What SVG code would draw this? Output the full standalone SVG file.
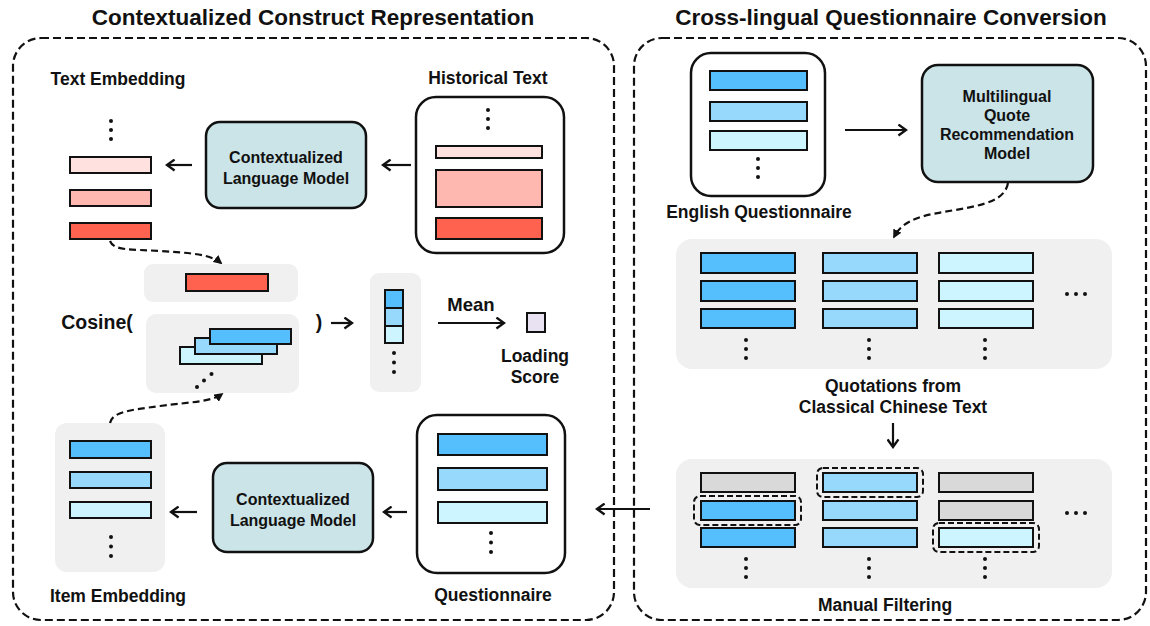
<svg xmlns="http://www.w3.org/2000/svg" width="1150" height="626" viewBox="0 0 1150 626">
<defs>
<style>
text{font-family:"Liberation Sans",Arial,sans-serif;font-weight:bold;fill:#111;text-anchor:middle}
.title{font-size:22.5px}
.lbl{font-size:17.5px}
.box{font-size:16px}
.panel{fill:none;stroke:#111;stroke-width:2.2;stroke-dasharray:8 4}
.card{fill:#fff;stroke:#111;stroke-width:2.5}
.model{fill:#CBE4E8;stroke:#111;stroke-width:2.5}
.gray{fill:#F0F0F0;stroke:none}
.bar{stroke:#111;stroke-width:2}
.b1{fill:#55BEFD}
.b2{fill:#97D9FD}
.b3{fill:#CDF5FF}
.r1{fill:#FFE2DF}
.r2{fill:#FFB8AF}
.r3{fill:#FF6350}
.g{fill:#D9D9D9}
.arr{fill:none;stroke:#111;stroke-width:2.2;marker-end:url(#chev)}
.darr{fill:none;stroke:#111;stroke-width:2.2;stroke-dasharray:7 4;marker-end:url(#tri)}
.hl{fill:none;stroke:#111;stroke-width:2;stroke-dasharray:6 3}
.dot{fill:#111}
</style>
<marker id="chev" viewBox="0 0 12 12" refX="10" refY="6" markerWidth="13" markerHeight="13" markerUnits="userSpaceOnUse" orient="auto">
<path d="M3,1 L10,6 L3,11" fill="none" stroke="#111" stroke-width="2.2"/>
</marker>
<marker id="tri" viewBox="0 0 10 10" refX="8" refY="5" markerWidth="9" markerHeight="9" markerUnits="userSpaceOnUse" orient="auto">
<path d="M0,0 L10,5 L0,10 z" fill="#111"/>
</marker>
</defs>
<rect width="1150" height="626" fill="#fff"/>

<!-- Panels -->
<g id="panel-left">
<rect class="panel" x="13" y="38" width="601" height="582" rx="28"/>
<text class="title" x="313" y="25">Contextualized Construct Representation</text>
</g>
<g id="panel-right">
<rect class="panel" x="634" y="38" width="512" height="582" rx="28"/>
<text class="title" x="891" y="25">Cross-lingual Questionnaire Conversion</text>
</g>

<!-- Text Embedding -->
<g id="text-embedding">
<text class="lbl" x="118" y="85">Text Embedding</text>
<circle class="dot" cx="111" cy="121" r="2"/>
<circle class="dot" cx="111" cy="130" r="2"/>
<circle class="dot" cx="111" cy="139" r="2"/>
<rect class="bar r1" x="70" y="157" width="81" height="16"/>
<rect class="bar r2" x="70" y="190" width="81" height="16"/>
<rect class="bar r3" x="70" y="223" width="81" height="16"/>
</g>

<!-- CLM top -->
<g id="clm-top">
<rect class="model" x="206" y="122" width="160" height="86" rx="14"/>
<text class="box" x="286" y="163">Contextualized</text>
<text class="box" x="286" y="184">Language Model</text>
</g>

<!-- Historical Text -->
<g id="historical-text">
<text class="lbl" x="488" y="84">Historical Text</text>
<rect class="card" x="416" y="97" width="148" height="156" rx="20"/>
<circle class="dot" cx="488" cy="110" r="2"/>
<circle class="dot" cx="488" cy="119" r="2"/>
<circle class="dot" cx="488" cy="128" r="2"/>
<rect class="bar r1" x="436" y="146" width="106" height="12"/>
<rect class="bar r2" x="436" y="170" width="106" height="37"/>
<rect class="bar r3" x="436" y="218" width="106" height="21"/>
</g>

<!-- Cosine block -->
<g id="cosine">
<text x="97" y="329" style="font-size:19.5px">Cosine(</text>
<rect class="gray" x="144" y="264" width="154" height="38" rx="9"/>
<rect class="bar r3" x="186" y="274" width="82" height="17"/>
<rect class="gray" x="146" y="314" width="153" height="79" rx="10"/>
<rect class="bar b3" x="180" y="347" width="82" height="17"/>
<rect class="bar b2" x="195" y="338" width="82" height="16"/>
<rect class="bar b1" x="210" y="329" width="81" height="15"/>
<circle class="dot" cx="197" cy="387" r="2"/>
<circle class="dot" cx="204" cy="380.5" r="2"/>
<circle class="dot" cx="211.5" cy="374" r="2"/>
<text x="319" y="329" style="font-size:19.5px">)</text>
</g>

<!-- Similarity column -->
<g id="similarity">
<rect class="gray" x="370" y="273" width="51" height="119" rx="9"/>
<rect class="bar b1" x="385" y="290" width="18" height="18"/>
<rect class="bar b2" x="385" y="308" width="18" height="18"/>
<rect class="bar b3" x="385" y="326" width="18" height="17"/>
<circle class="dot" cx="394" cy="353" r="2"/>
<circle class="dot" cx="394" cy="362.5" r="2"/>
<circle class="dot" cx="394" cy="372" r="2"/>
</g>

<!-- Loading score -->
<g id="loading-score">
<rect x="527" y="313" width="18" height="19" fill="#E8E2F2" stroke="#111" stroke-width="2"/>
<text class="lbl" x="535" y="362">Loading</text>
<text class="lbl" x="535" y="383">Score</text>
</g>

<!-- Item Embedding -->
<g id="item-embedding">
<rect class="gray" x="55" y="423" width="110" height="149" rx="12"/>
<rect class="bar b1" x="70" y="441" width="81" height="17"/>
<rect class="bar b2" x="70" y="472" width="81" height="16"/>
<rect class="bar b3" x="70" y="502" width="81" height="16"/>
<circle class="dot" cx="111" cy="537" r="2"/>
<circle class="dot" cx="111" cy="546.5" r="2"/>
<circle class="dot" cx="111" cy="556" r="2"/>
<text class="lbl" x="118" y="602">Item Embedding</text>
</g>

<!-- CLM bottom -->
<g id="clm-bottom">
<rect class="model" x="213" y="463" width="160" height="89" rx="14"/>
<text class="box" x="293" y="505">Contextualized</text>
<text class="box" x="293" y="526">Language Model</text>
</g>

<!-- Questionnaire -->
<g id="questionnaire">
<rect class="card" x="417" y="415" width="148" height="158" rx="20"/>
<rect class="bar b1" x="438" y="434" width="109" height="21"/>
<rect class="bar b2" x="438" y="468" width="109" height="22"/>
<rect class="bar b3" x="438" y="502" width="109" height="21"/>
<circle class="dot" cx="491" cy="533" r="2"/>
<circle class="dot" cx="491" cy="542.5" r="2"/>
<circle class="dot" cx="491" cy="552" r="2"/>
<text class="lbl" x="493" y="601">Questionnaire</text>
</g>

<!-- English Questionnaire -->
<g id="english-questionnaire">
<rect class="card" x="691" y="53" width="134" height="143" rx="20"/>
<rect class="bar b1" x="710" y="71" width="97" height="19"/>
<rect class="bar b2" x="710" y="102" width="97" height="19"/>
<rect class="bar b3" x="710" y="131" width="97" height="19"/>
<circle class="dot" cx="758" cy="159" r="2"/>
<circle class="dot" cx="758" cy="168" r="2"/>
<circle class="dot" cx="758" cy="177" r="2"/>
<text class="lbl" x="759" y="218">English Questionnaire</text>
</g>

<!-- Multilingual model -->
<g id="mqr-model">
<rect class="model" x="922" y="65" width="171" height="117" rx="16"/>
<text class="box" x="1007" y="102">Multilingual</text>
<text class="box" x="1007" y="121">Quote</text>
<text class="box" x="1007" y="140">Recommendation</text>
<text class="box" x="1007" y="159">Model</text>
</g>

<!-- Quotations -->
<g id="quotations">
<rect class="gray" x="676" y="239" width="436" height="130" rx="16"/>
<rect class="bar b1" x="701" y="253" width="94" height="20"/>
<rect class="bar b1" x="701" y="281" width="94" height="20"/>
<rect class="bar b1" x="701" y="309" width="94" height="19"/>
<rect class="bar b2" x="823" y="253" width="94" height="20"/>
<rect class="bar b2" x="823" y="281" width="94" height="20"/>
<rect class="bar b2" x="823" y="309" width="94" height="19"/>
<rect class="bar b3" x="939" y="253" width="94" height="20"/>
<rect class="bar b3" x="939" y="281" width="94" height="20"/>
<rect class="bar b3" x="939" y="309" width="94" height="19"/>
<circle class="dot" cx="746" cy="340" r="2"/><circle class="dot" cx="746" cy="349" r="2"/><circle class="dot" cx="746" cy="358" r="2"/>
<circle class="dot" cx="869" cy="340" r="2"/><circle class="dot" cx="869" cy="349" r="2"/><circle class="dot" cx="869" cy="358" r="2"/>
<circle class="dot" cx="985" cy="340" r="2"/><circle class="dot" cx="985" cy="349" r="2"/><circle class="dot" cx="985" cy="358" r="2"/>
<circle class="dot" cx="1067" cy="294" r="2"/><circle class="dot" cx="1076" cy="294" r="2"/><circle class="dot" cx="1085" cy="294" r="2"/>
<text class="lbl" x="893" y="392">Quotations from</text>
<text class="lbl" x="893" y="413">Classical Chinese Text</text>
</g>

<!-- Manual Filtering -->
<g id="manual-filtering">
<rect class="gray" x="676" y="459" width="436" height="129" rx="16"/>
<rect class="bar g" x="701" y="473" width="94" height="19"/>
<rect class="bar b1" x="701" y="501" width="94" height="19"/>
<rect class="bar b1" x="701" y="528" width="94" height="19"/>
<rect class="bar b2" x="823" y="473" width="94" height="19"/>
<rect class="bar b2" x="823" y="501" width="94" height="19"/>
<rect class="bar b2" x="823" y="528" width="94" height="19"/>
<rect class="bar g" x="939" y="473" width="94" height="19"/>
<rect class="bar g" x="939" y="501" width="94" height="19"/>
<rect class="bar b3" x="939" y="528" width="94" height="19"/>
<rect class="hl" x="694" y="496" width="107" height="29" rx="6"/>
<rect class="hl" x="817" y="468" width="106" height="29" rx="6"/>
<rect class="hl" x="933" y="523" width="106" height="29" rx="6"/>
<circle class="dot" cx="746" cy="559" r="2"/><circle class="dot" cx="746" cy="568" r="2"/><circle class="dot" cx="746" cy="577" r="2"/>
<circle class="dot" cx="869" cy="559" r="2"/><circle class="dot" cx="869" cy="568" r="2"/><circle class="dot" cx="869" cy="577" r="2"/>
<circle class="dot" cx="985" cy="559" r="2"/><circle class="dot" cx="985" cy="568" r="2"/><circle class="dot" cx="985" cy="577" r="2"/>
<circle class="dot" cx="1067" cy="513" r="2"/><circle class="dot" cx="1076" cy="513" r="2"/><circle class="dot" cx="1085" cy="513" r="2"/>
<text class="lbl" x="885" y="611">Manual Filtering</text>
</g>

<!-- Connectors -->
<g id="connectors">
<line class="arr" x1="192" y1="165" x2="167" y2="165"/>
<line class="arr" x1="411" y1="165" x2="383" y2="165"/>
<line class="arr" x1="331" y1="323" x2="352" y2="323"/>
<line class="arr" x1="438" y1="323" x2="504" y2="323"/>
<text class="lbl" x="471" y="311" style="font-size:18.5px">Mean</text>
<line class="arr" x1="197" y1="512" x2="171" y2="512"/>
<line class="arr" x1="407" y1="512" x2="384" y2="512"/>
<line class="arr" x1="650" y1="509" x2="597" y2="509"/>
<line class="arr" x1="845" y1="130" x2="906" y2="130"/>
<line class="arr" x1="893" y1="423" x2="893" y2="447"/>
<path class="darr" d="M110,241 C114,251 130,249 160,251 S210,254 221,263"/>
<path class="darr" d="M110,423 C112,412 130,410 160,406 S211,402 222,394"/>
<path class="darr" d="M1008,183 C1005,200 985,205 955,210 S904,218 894,237"/>
</g>
</svg>
